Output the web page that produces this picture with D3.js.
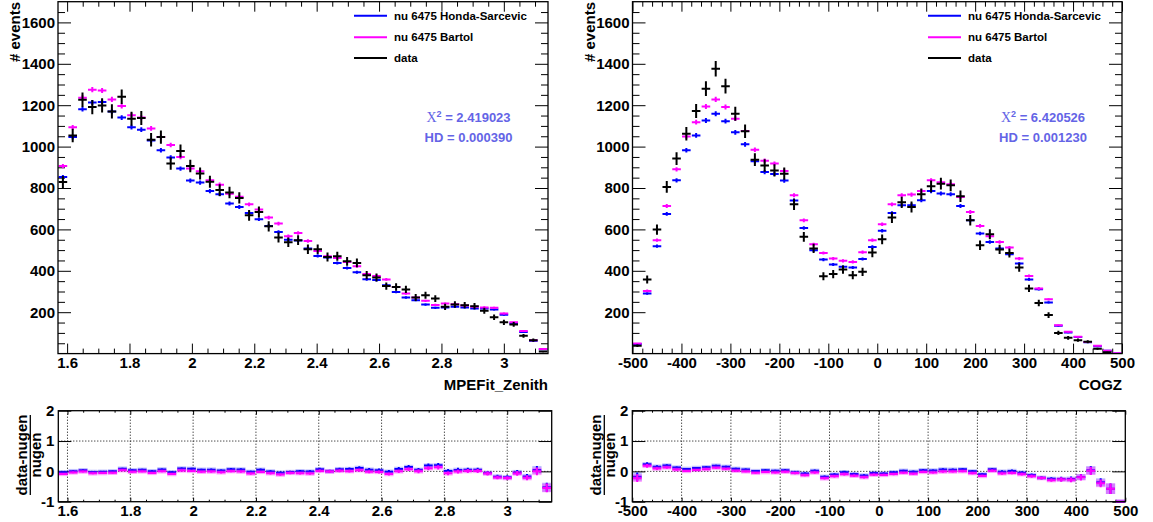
<!DOCTYPE html>
<html><head><meta charset="utf-8">
<script src="https://cdn.jsdelivr.net/npm/d3@7"></script>
<style>
body{margin:0;background:#fff;}
svg{display:block;}
text{font-family:"Liberation Sans",Arial,Helvetica,sans-serif;font-weight:bold;}
</style></head><body>
<svg id="c" width="1153" height="522"></svg>
<script>
// ---------------- data ----------------
const zenithRange = [Math.PI / 2, Math.PI];
const cogzRange = [-500, 500];

const zenithHonda = [853,1046,1181,1213,1215,1170,1140,1094,1082,1029,982,947,894,836,826,785,770,725,708,679,
  649,617,588,550,546,508,472,464,438,414,393,359,355,330,298,271,258,237,221,223,
  226,223,218,218,213,188,146,104,62,21];
const zenithBartol = [906,1093,1236,1275,1271,1228,1196,1152,1140,1088,1046,1008,950,894,881,837,816,772,758,721,
  696,657,628,567,583,544,496,470,462,443,422,384,375,358,322,290,271,255,235,242,
  239,232,226,223,221,194,151,109,65,22];
const zenithData = [829,1054,1226,1191,1199,1170,1241,1135,1138,1033,1046,918,979,906,870,830,790,778,752,668,
  684,615,561,538,548,504,504,467,470,446,438,379,368,326,322,310,271,282,266,226,
  237,234,229,207,176,151,141,86,65,10];

const cogzHonda = [46,290,519,675,837,982,1054,1126,1159,1123,1069,1011,929,877,868,836,740,607,499,454,
  430,419,416,457,515,593,679,717,717,741,785,773,770,713,644,580,539,508,480,435,
  358,311,247,134,102,80,55,36,14,1];
const cogzBartol = [49,303,548,713,890,1049,1118,1194,1228,1191,1135,1075,985,932,918,882,765,644,528,486,
  459,448,443,490,548,625,721,765,768,785,837,828,818,757,684,617,567,539,512,459,
  375,315,262,137,105,81,56,38,14,2];
const cogzData = [38,358,599,805,942,1062,1172,1280,1376,1292,1159,1074,937,909,885,869,721,564,508,374,
  384,406,379,395,488,552,657,731,708,770,808,821,813,760,644,523,577,503,486,416,
  315,245,186,100,76,65,57,23,6,0];

const legendLabels = ["nu 6475 Honda-Sarcevic", "nu 6475 Bartol", "data"];
const zenithStats = ["2.419023", "0.000390"];
const cogzStats = ["6.420526", "0.001230"];
const zenithTicks = [1.6, 1.8, 2, 2.2, 2.4, 2.6, 2.8, 3];
const cogzTicks = [-500, -400, -300, -200, -100, 0, 100, 200, 300, 400, 500];
const countTicks = [200, 400, 600, 800, 1000, 1200, 1400, 1600];
const ratioTicks = [-1, 0, 1, 2];
const mcErrScale = 0.35;

// ---------------- drawing ----------------
const svg = d3.select("#c");
const BLUE = "#0000ff", MAG = "#ff00ff", BLK = "#000000", STAT = "#6464e6";
const fmt = d => String(+d.toFixed(6));
let clipId = 0;

function styleAxis(g, size) {
  g.select(".domain").remove();
  g.selectAll("line").attr("stroke", "#000").attr("stroke-width", 1);
  g.selectAll("text").attr("font-family", '"Liberation Sans",Arial,Helvetica,sans-serif')
    .attr("font-weight", "bold").attr("font-size", size).attr("fill", "#000");
}

function addClip(x0, y0, w, h) {
  const id = "clip" + (clipId++);
  svg.append("clipPath").attr("id", id).append("rect")
    .attr("x", x0).attr("y", y0).attr("width", w).attr("height", h);
  return "url(#" + id + ")";
}

function drawPanel(p) {
  const nb = p.honda.length;
  const bw = (p.range[1] - p.range[0]) / nb;
  // ---- main pad ----
  const x = d3.scaleLinear().domain(p.range).range([p.mx0, p.mx1]);
  const y = d3.scaleLinear().domain([0, 1700]).range([353.6, 1.7]);
  const g = svg.append("g");

  const yMin = d3.range(50, 1700, 50).filter(v => v % 200 !== 0);
  g.append("g").attr("transform", `translate(${p.mx0},0)`)
    .call(d3.axisLeft(y).tickValues(countTicks).tickSize(-13).tickPadding(3).tickFormat(fmt).tickSizeOuter(0))
    .call(a => styleAxis(a, 15));
  g.append("g").attr("transform", `translate(${p.mx0},0)`)
    .call(d3.axisLeft(y).tickValues(yMin).tickSize(-7).tickFormat("").tickSizeOuter(0))
    .call(a => styleAxis(a, 15));
  g.append("g").attr("transform", `translate(${p.mx1},0)`)
    .call(d3.axisRight(y).tickValues(countTicks).tickSize(-13).tickFormat("").tickSizeOuter(0))
    .call(a => styleAxis(a, 15));
  g.append("g").attr("transform", `translate(${p.mx1},0)`)
    .call(d3.axisRight(y).tickValues(yMin).tickSize(-7).tickFormat("").tickSizeOuter(0))
    .call(a => styleAxis(a, 15));
  g.append("g").attr("transform", `translate(0,${y(0)})`)
    .call(d3.axisBottom(x).tickValues(p.ticks).tickSize(-10).tickPadding(4).tickFormat(fmt).tickSizeOuter(0))
    .call(a => styleAxis(a, 15));
  g.append("g").attr("transform", `translate(0,${y(0)})`)
    .call(d3.axisBottom(x).tickValues(p.minor).tickSize(-5).tickFormat("").tickSizeOuter(0))
    .call(a => styleAxis(a, 15));
  g.append("g").attr("transform", `translate(0,${y(1700)})`)
    .call(d3.axisTop(x).tickValues(p.ticks).tickSize(-10).tickFormat("").tickSizeOuter(0))
    .call(a => styleAxis(a, 15));
  g.append("g").attr("transform", `translate(0,${y(1700)})`)
    .call(d3.axisTop(x).tickValues(p.minor).tickSize(-5).tickFormat("").tickSizeOuter(0))
    .call(a => styleAxis(a, 15));

  // markers
  const clip = addClip(p.mx0, y(1700), p.mx1 - p.mx0, y(0) - y(1700));
  const series = [
    {vals: p.honda, col: BLUE, err: v => mcErrScale * Math.sqrt(v)},
    {vals: p.bartol, col: MAG, err: v => mcErrScale * Math.sqrt(v)},
    {vals: p.data, col: BLK, err: v => Math.sqrt(v)}
  ];
  const mg = g.append("g").attr("clip-path", clip);
  series.forEach(s => {
    const sg = mg.append("g").attr("stroke", s.col).attr("stroke-width", 2).attr("fill", "none");
    s.vals.forEach((v, i) => {
      if (v <= 0) return;
      const lo = p.range[0] + i * bw, hi = lo + bw, c = lo + bw / 2;
      sg.append("line").attr("x1", x(lo) + 0.6).attr("x2", x(hi) - 0.6).attr("y1", y(v)).attr("y2", y(v));
      sg.append("line").attr("x1", x(c)).attr("x2", x(c)).attr("y1", y(v - s.err(v))).attr("y2", y(v + s.err(v)));
    });
  });

  g.append("rect").attr("x", p.mx0).attr("y", y(1700)).attr("width", p.mx1 - p.mx0)
    .attr("height", y(0) - y(1700)).attr("fill", "none").attr("stroke", "#000").attr("stroke-width", 1.3);

  g.append("text").attr("transform", `translate(${p.mx0 - 38},2) rotate(-90)`)
    .attr("text-anchor", "end").attr("font-size", 15).text("# events");
  g.append("text").attr("x", p.mx1).attr("y", 390).attr("text-anchor", "end")
    .attr("font-size", 15).text(p.xtitle);

  const lcols = [BLUE, MAG, BLK];
  const ly = [15.7, 37.3, 58];
  legendLabels.forEach((lab, k) => {
    g.append("line").attr("x1", p.lx).attr("x2", p.lx + 33).attr("y1", ly[k]).attr("y2", ly[k])
      .attr("stroke", lcols[k]).attr("stroke-width", 2);
    g.append("text").attr("x", p.lx + 40).attr("y", ly[k] + 4).attr("font-size", 11.5).text(lab);
  });

  const t1 = g.append("text").attr("x", p.sx).attr("y", 121.5).attr("text-anchor", "middle")
    .attr("font-size", 13).attr("fill", STAT);
  t1.append("tspan").attr("font-family", '"Liberation Serif","Times New Roman",serif').attr("font-weight", "normal")
    .attr("font-size", 14).text("\u03A7");
  t1.append("tspan").attr("font-size", 9).attr("dy", -5).text("2");
  t1.append("tspan").attr("dy", 5).text(" = " + p.stats[0]);
  g.append("text").attr("x", p.sx).attr("y", 141.5).attr("text-anchor", "middle")
    .attr("font-size", 13).attr("fill", STAT).text("HD = " + p.stats[1]);

  // ---- ratio pad ----
  const rx = d3.scaleLinear().domain(p.range).range([p.rx0, p.rx1]);
  const ry = d3.scaleLinear().domain([-1, 2]).range([501.7, 410.7]);
  const rg = svg.append("g");
  rg.append("g").selectAll("line").data(p.ticks.filter(t => t > p.range[0] + 1e-9 && t < p.range[1] - 1e-9)).join("line")
    .attr("x1", d => rx(d)).attr("x2", d => rx(d)).attr("y1", ry(2)).attr("y2", ry(-1))
    .attr("stroke", "#000").attr("stroke-width", 1).attr("stroke-dasharray", "1,2");
  rg.append("g").selectAll("line").data([0, 1]).join("line")
    .attr("x1", p.rx0).attr("x2", p.rx1).attr("y1", d => ry(d)).attr("y2", d => ry(d))
    .attr("stroke", "#000").attr("stroke-width", 1).attr("stroke-dasharray", "1,2");

  rg.append("g").attr("transform", `translate(${p.rx0},0)`)
    .call(d3.axisLeft(ry).tickValues(ratioTicks).tickSize(-13).tickPadding(4).tickFormat(fmt).tickSizeOuter(0))
    .call(a => styleAxis(a, 15));
  rg.append("g").attr("transform", `translate(${p.rx1},0)`)
    .call(d3.axisRight(ry).tickValues(ratioTicks).tickSize(-13).tickFormat("").tickSizeOuter(0))
    .call(a => styleAxis(a, 15));
  rg.append("g").attr("transform", `translate(0,${ry(-1)})`)
    .call(d3.axisBottom(rx).tickValues(p.ticks).tickSize(-4).tickPadding(3.5).tickFormat(fmt).tickSizeOuter(0))
    .call(a => styleAxis(a, 15));
  rg.append("g").attr("transform", `translate(0,${ry(-1)})`)
    .call(d3.axisBottom(rx).tickValues(p.minor).tickSize(-2).tickFormat("").tickSizeOuter(0))
    .call(a => styleAxis(a, 15));
  rg.append("g").attr("transform", `translate(0,${ry(2)})`)
    .call(d3.axisTop(rx).tickValues(p.ticks).tickSize(-4).tickFormat("").tickSizeOuter(0))
    .call(a => styleAxis(a, 15));
  rg.append("g").attr("transform", `translate(0,${ry(2)})`)
    .call(d3.axisTop(rx).tickValues(p.minor).tickSize(-2).tickFormat("").tickSizeOuter(0))
    .call(a => styleAxis(a, 15));

  const rclip = addClip(p.rx0, ry(2), p.rx1 - p.rx0, ry(-1) - ry(2) + 1);
  const rm = rg.append("g").attr("clip-path", rclip);
  [{mc: p.honda, col: BLUE, light: "rgba(0,0,255,0.25)"}, {mc: p.bartol, col: MAG, light: "rgba(255,0,255,0.35)"}].forEach(s => {
    const sg = rm.append("g");
    s.mc.forEach((m, i) => {
      const d = p.data[i];
      const r = (d - m) / m;
      const e = Math.sqrt(d) / m;
      const lo = p.range[0] + i * bw, hi = lo + bw, c = lo + bw / 2;
      const hh = Math.max(ry(r - e) - ry(r), 2.2);
      sg.append("rect").attr("x", rx(lo) + 0.3).attr("width", rx(hi) - rx(lo) - 0.6)
        .attr("y", ry(r) - hh).attr("height", 2 * hh).attr("fill", s.light);
      sg.append("line").attr("x1", rx(lo) + 0.6).attr("x2", rx(hi) - 0.6).attr("y1", ry(r)).attr("y2", ry(r))
        .attr("stroke", s.col).attr("stroke-width", 2);
      sg.append("line").attr("x1", rx(c)).attr("x2", rx(c)).attr("y1", ry(r - e)).attr("y2", ry(r + e))
        .attr("stroke", s.col).attr("stroke-width", 2);
    });
  });

  rg.append("rect").attr("x", p.rx0).attr("y", ry(2)).attr("width", p.rx1 - p.rx0)
    .attr("height", ry(-1) - ry(2)).attr("fill", "none").attr("stroke", "#000").attr("stroke-width", 1.3);

  const tg = rg.append("g").attr("transform", `translate(${p.rx0 - 31},455) rotate(-90)`);
  tg.append("text").attr("text-anchor", "middle").attr("font-size", 15).text("data-nugen");
  tg.append("line").attr("x1", -40).attr("x2", 40).attr("y1", 3).attr("y2", 3).attr("stroke", "#000").attr("stroke-width", 1.3);
  tg.append("text").attr("text-anchor", "middle").attr("font-size", 15).attr("y", 14).text("nugen");
}

drawPanel({
  range: zenithRange, honda: zenithHonda, bartol: zenithBartol, data: zenithData,
  mx0: 58, mx1: 548, rx0: 58.3, rx1: 551.7,
  ticks: zenithTicks, minor: d3.range(32, 63).filter(k => k % 4 !== 0).map(k => k * 0.05),
  xtitle: "MPEFit_Zenith", lx: 354, sx: 468.5, stats: zenithStats
});
drawPanel({
  range: cogzRange, honda: cogzHonda, bartol: cogzBartol, data: cogzData,
  mx0: 632.5, mx1: 1122, rx0: 632.3, rx1: 1125.3,
  ticks: cogzTicks, minor: d3.range(-500, 501, 20).filter(v => v % 100 !== 0),
  xtitle: "COGZ", lx: 928, sx: 1043, stats: cogzStats
});
</script></body></html>
